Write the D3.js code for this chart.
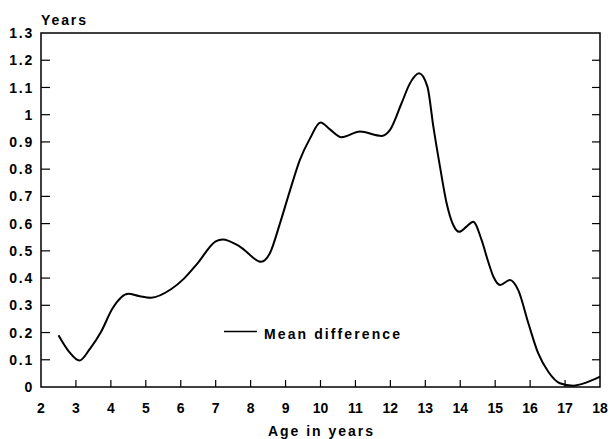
<!DOCTYPE html>
<html><head><meta charset="utf-8">
<script src="https://cdn.jsdelivr.net/npm/d3@7"></script>
<style>body{margin:0;background:#fff}svg{display:block}text{font-family:"Liberation Sans",Arial,sans-serif;font-weight:bold;fill:#000}</style>
</head><body><svg id="c" width="610" height="439"></svg>
<script>
const ages = [2.5, 2.8, 3.1, 3.4, 3.72, 4.05, 4.5, 4.8, 5.15, 5.72, 6.1, 6.48, 7.0, 7.2, 7.7, 8.3, 8.55, 8.84, 9.13, 9.41, 9.7, 10.0, 10.27, 10.6, 11.13, 11.75, 11.99, 12.32, 12.56, 12.82, 13.06, 13.23, 13.42, 13.61, 13.8, 13.97, 14.18, 14.37, 14.61, 14.8, 14.95, 15.14, 15.42, 15.66, 15.95, 16.23, 16.52, 16.85, 17.23, 17.62, 18.0];
const meanDiff = [0.19, 0.13, 0.097, 0.14, 0.203, 0.289, 0.342, 0.334, 0.328, 0.359, 0.399, 0.454, 0.535, 0.542, 0.515, 0.46, 0.491, 0.601, 0.723, 0.834, 0.913, 0.971, 0.946, 0.917, 0.938, 0.922, 0.944, 1.042, 1.115, 1.152, 1.103, 0.956, 0.809, 0.675, 0.595, 0.57, 0.589, 0.607, 0.54, 0.46, 0.405, 0.375, 0.393, 0.356, 0.234, 0.124, 0.056, 0.014, 0.005, 0.017, 0.038];
const xTicks = [2,3,4,5,6,7,8,9,10,11,12,13,14,15,16,17,18];
const yTicks = [0,0.1,0.2,0.3,0.4,0.5,0.6,0.7,0.8,0.9,1,1.1,1.2,1.3];
const yTickLabels = ["0","0.1","0.2","0.3","0.4","0.5","0.6","0.7","0.8","0.9","1","1.1","1.2","1.3"];
const seriesName = "Mean difference";
const xTitle = "Age in years";
const yTitle = "Years";

const L=41,R=600,T=33,B=387;
const svg=d3.select("#c");
const x=d3.scaleLinear().domain([2,18]).range([L,R]);
const y=d3.scaleLinear().domain([0,1.3]).range([B,T]);

svg.append("rect").attr("x",L).attr("y",T).attr("width",R-L).attr("height",B-T)
  .attr("fill","none").attr("stroke","#000").attr("stroke-width",1.5);

svg.selectAll(".yl").data(yTicks.slice(1,-1)).join("line")
  .attr("x1",L).attr("x2",L+9).attr("y1",d=>y(d)).attr("y2",d=>y(d)).attr("stroke","#000").attr("stroke-width",1.2);
svg.selectAll(".yr").data(yTicks.slice(1,-1)).join("line")
  .attr("x1",R-8).attr("x2",R).attr("y1",d=>y(d)).attr("y2",d=>y(d)).attr("stroke","#000").attr("stroke-width",1.2);
svg.selectAll(".xb").data(xTicks.slice(1,-1)).join("line")
  .attr("x1",d=>x(d)).attr("x2",d=>x(d)).attr("y1",B).attr("y2",B-7).attr("stroke","#000").attr("stroke-width",1.2);

svg.selectAll(".ytl").data(yTicks).join("text")
  .attr("x",34).attr("y",d=>y(d)).attr("dy","0.36em").attr("text-anchor","end")
  .attr("font-size",14).attr("letter-spacing",1.8)
  .text((d,i)=>yTickLabels[i]);
svg.selectAll(".xtl").data(xTicks).join("text")
  .attr("x",d=>x(d)).attr("y",412.5).attr("text-anchor","middle")
  .attr("font-size",14).text(d=>d);

svg.append("text").attr("x",268).attr("y",436).attr("font-size",14)
  .attr("textLength",105).attr("lengthAdjust","spacing").text(xTitle);
svg.append("text").attr("x",41).attr("y",25).attr("font-size",14)
  .attr("textLength",45).attr("lengthAdjust","spacing").text(yTitle);

const line=d3.line().x((d,i)=>x(ages[i])).y(d=>y(d)).curve(d3.curveMonotoneX);
svg.append("path").attr("d",line(meanDiff)).attr("fill","none").attr("stroke","#000").attr("stroke-width",2);

svg.append("line").attr("x1",224).attr("x2",257).attr("y1",331.5).attr("y2",331.5).attr("stroke","#000").attr("stroke-width",1.3);
svg.append("text").attr("x",264).attr("y",338.5).attr("font-size",14)
  .attr("textLength",136).attr("lengthAdjust","spacing").text(seriesName);
</script></body></html>
